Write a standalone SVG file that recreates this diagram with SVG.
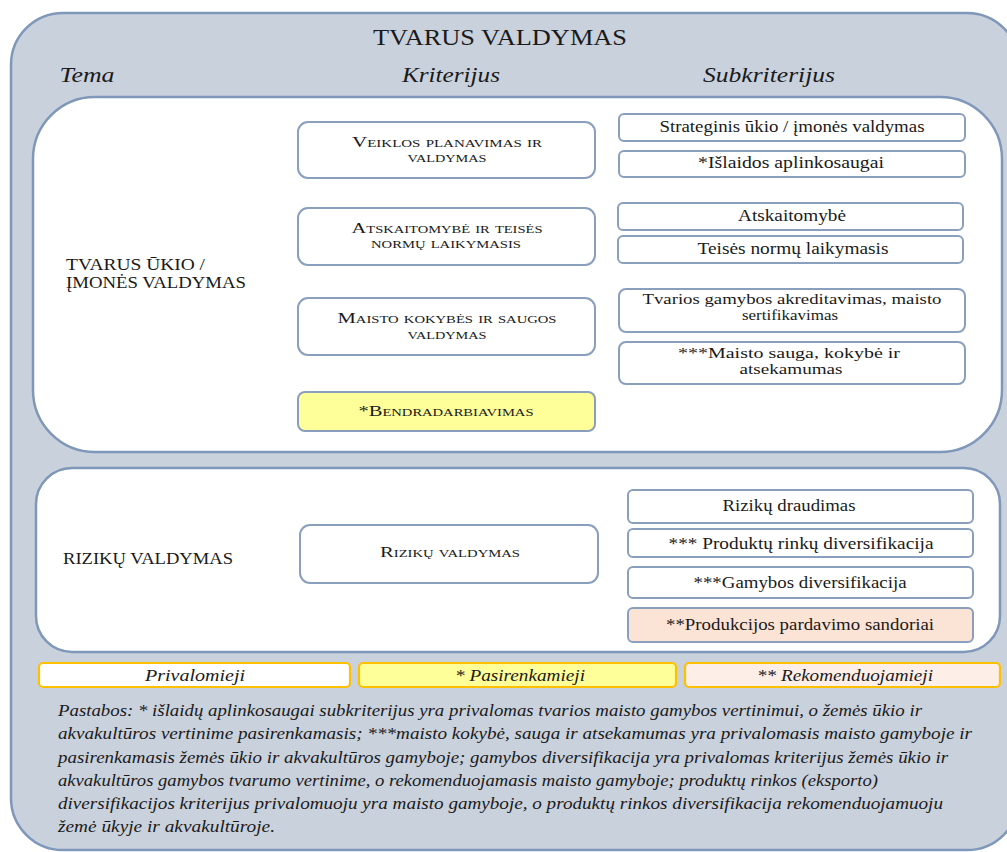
<svg xmlns="http://www.w3.org/2000/svg" width="1007" height="852" viewBox="0 0 1007 852" font-family="'Liberation Serif', 'DejaVu Serif', 'Noto Serif', 'FreeSerif', Tinos, serif">
  <style>
    text { fill: #1a1a1a; }
    .outer { fill: #c9d1dd; stroke: #7f97b8; stroke-width: 2.5; }
    .panel { fill: #ffffff; stroke: #7f97b8; stroke-width: 2.5; }
    .box { fill: #ffffff; stroke: #8a9fbd; stroke-width: 2; }
    .yellow { fill: #ffff99; }
    .peach { fill: #fbe4d5; }
    .legend { stroke: #ffc000; stroke-width: 2.2; }
    .title { font-size: 23px; text-anchor: middle; }
    .head { font-size: 22px; font-style: italic; text-anchor: middle; }
    .crit { font-size: 15.5px; font-variant: small-caps; text-anchor: middle; }
    .sub { font-size: 16px; text-anchor: middle; }
    .sub2 { font-size: 15px; text-anchor: middle; }
    .theme { font-size: 16.5px; }
    .leg { font-size: 16px; font-style: italic; text-anchor: middle; }
    .note { font-size: 16px; font-style: italic; }
  </style>

  <!-- outer frame -->
  <rect class="outer" x="11" y="13" width="1008" height="837" rx="52" ry="52"/>
  <text class="title" x="500" y="45" textLength="254" lengthAdjust="spacingAndGlyphs">TVARUS VALDYMAS</text>
  <text class="head" x="87" y="82" textLength="55" lengthAdjust="spacingAndGlyphs">Tema</text>
  <text class="head" x="451" y="82" textLength="98" lengthAdjust="spacingAndGlyphs">Kriterijus</text>
  <text class="head" x="769" y="82" textLength="132" lengthAdjust="spacingAndGlyphs">Subkriterijus</text>

  <!-- theme: sustainable farm / enterprise management -->
  <g id="theme-tvarus">
    <rect class="panel" x="33" y="97" width="969" height="355" rx="62" ry="62"/>
    <text class="theme" x="66" y="270" textLength="139" lengthAdjust="spacingAndGlyphs">TVARUS  ŪKIO /</text>
    <text class="theme" x="66" y="288" textLength="180" lengthAdjust="spacingAndGlyphs">ĮMONĖS VALDYMAS</text>
  </g>

  <!-- theme: risk management -->
  <g id="theme-rizikos">
    <rect class="panel" x="36" y="468" width="964" height="184" rx="36" ry="36"/>
    <text class="theme" x="63" y="564" textLength="170" lengthAdjust="spacingAndGlyphs">RIZIKŲ VALDYMAS</text>
  </g>

  <!-- criteria -->
  <g id="crit-veiklos">
    <rect class="box" x="298" y="122" width="297" height="56" rx="10"/>
    <text class="crit" x="447" y="147" textLength="190" lengthAdjust="spacingAndGlyphs">Veiklos  planavimas  ir</text>
    <text class="crit" x="447" y="162" textLength="79" lengthAdjust="spacingAndGlyphs">valdymas</text>
  </g>
  <g id="crit-atskaitomybe">
    <rect class="box" x="298" y="208" width="297" height="57" rx="10"/>
    <text class="crit" x="447" y="233" textLength="191" lengthAdjust="spacingAndGlyphs">Atskaitomybė  ir  teisės</text>
    <text class="crit" x="446" y="248" textLength="150" lengthAdjust="spacingAndGlyphs">normų  laikymasis</text>
  </g>
  <g id="crit-maisto">
    <rect class="box" x="298" y="298" width="297" height="57" rx="10"/>
    <text class="crit" x="447" y="323" textLength="219" lengthAdjust="spacingAndGlyphs">Maisto kokybės  ir saugos</text>
    <text class="crit" x="447" y="339" textLength="79" lengthAdjust="spacingAndGlyphs">valdymas</text>
  </g>
  <g id="crit-bendradarbiavimas">
    <rect class="box yellow" x="298" y="392" width="297" height="39" rx="7"/>
    <text class="crit" x="446" y="416" textLength="175" lengthAdjust="spacingAndGlyphs">*Bendradarbiavimas</text>
  </g>
  <g id="crit-rizikos">
    <rect class="box" x="300" y="525" width="298" height="58" rx="10"/>
    <text class="crit" x="450" y="557" textLength="140" lengthAdjust="spacingAndGlyphs">Rizikų  valdymas</text>
  </g>

  <!-- subcriteria -->
  <g id="sub-strateginis">
    <rect class="box" x="619" y="114" width="346" height="27" rx="5"/>
    <text class="sub" x="792" y="132" textLength="265" lengthAdjust="spacingAndGlyphs">Strateginis ūkio / įmonės valdymas</text>
  </g>
  <g id="sub-islaidos">
    <rect class="box" x="619" y="151" width="346" height="26" rx="5"/>
    <text class="sub" x="791" y="168" textLength="186" lengthAdjust="spacingAndGlyphs">*Išlaidos aplinkosaugai</text>
  </g>
  <g id="sub-atskaitomybe">
    <rect class="box" x="618" y="203" width="345" height="27" rx="5"/>
    <text class="sub" x="792" y="221" textLength="108" lengthAdjust="spacingAndGlyphs">Atskaitomybė</text>
  </g>
  <g id="sub-teises">
    <rect class="box" x="618" y="236" width="345" height="27" rx="5"/>
    <text class="sub" x="793" y="254" textLength="191" lengthAdjust="spacingAndGlyphs">Teisės normų laikymasis</text>
  </g>
  <g id="sub-akreditavimas">
    <rect class="box" x="619" y="289" width="346" height="43" rx="7"/>
    <text class="sub2" x="792" y="304" textLength="299" lengthAdjust="spacingAndGlyphs">Tvarios  gamybos akreditavimas, maisto</text>
    <text class="sub2" x="790" y="320" textLength="96" lengthAdjust="spacingAndGlyphs">sertifikavimas</text>
  </g>
  <g id="sub-sauga">
    <rect class="box" x="619" y="342" width="346" height="42" rx="7"/>
    <text class="sub2" x="789" y="358" textLength="222" lengthAdjust="spacingAndGlyphs">***Maisto sauga, kokybė ir</text>
    <text class="sub2" x="791" y="374" textLength="103" lengthAdjust="spacingAndGlyphs">atsekamumas</text>
  </g>
  <g id="sub-draudimas">
    <rect class="box" x="628" y="490" width="345" height="33" rx="5"/>
    <text class="sub" x="789" y="511" textLength="133" lengthAdjust="spacingAndGlyphs">Rizikų draudimas</text>
  </g>
  <g id="sub-rinku">
    <rect class="box" x="628" y="529" width="345" height="28" rx="5"/>
    <text class="sub" x="801" y="549" textLength="265" lengthAdjust="spacingAndGlyphs">*** Produktų rinkų diversifikacija</text>
  </g>
  <g id="sub-gamybos">
    <rect class="box" x="628" y="567" width="345" height="31" rx="5"/>
    <text class="sub" x="800" y="588" textLength="213" lengthAdjust="spacingAndGlyphs">***Gamybos diversifikacija</text>
  </g>
  <g id="sub-sandoriai">
    <rect class="box peach" x="628" y="608" width="345" height="34" rx="5"/>
    <text class="sub" x="800" y="630" textLength="268" lengthAdjust="spacingAndGlyphs">**Produkcijos pardavimo sandoriai</text>
  </g>

  <!-- legend -->
  <g id="legend-privalomieji">
    <rect class="legend" x="39" y="663" width="311" height="24" rx="4" fill="#ffffff"/>
    <text class="leg" x="195" y="681" textLength="100" lengthAdjust="spacingAndGlyphs">Privalomieji</text>
  </g>
  <g id="legend-pasirenkamieji">
    <rect class="legend" x="359" y="663" width="317" height="24" rx="4" fill="#ffff99"/>
    <text class="leg" x="520" y="681" textLength="130" lengthAdjust="spacingAndGlyphs">* Pasirenkamieji</text>
  </g>
  <g id="legend-rekomenduojamieji">
    <rect class="legend" x="685" y="663" width="315" height="24" rx="4" fill="#fdefe7"/>
    <text class="leg" x="845" y="681" textLength="176" lengthAdjust="spacingAndGlyphs">** Rekomenduojamieji</text>
  </g>

  <!-- notes -->
  <g id="notes">
    <text class="note" x="58" y="716" textLength="864" lengthAdjust="spacingAndGlyphs">Pastabos: * išlaidų aplinkosaugai subkriterijus yra privalomas tvarios maisto gamybos vertinimui, o žemės ūkio ir</text>
    <text class="note" x="58" y="739" textLength="914" lengthAdjust="spacingAndGlyphs">akvakultūros vertinime pasirenkamasis; ***maisto kokybė, sauga ir atsekamumas yra privalomasis maisto gamyboje ir</text>
    <text class="note" x="58" y="763" textLength="890" lengthAdjust="spacingAndGlyphs">pasirenkamasis žemės ūkio ir akvakultūros gamyboje;  gamybos diversifikacija yra privalomas kriterijus žemės ūkio ir</text>
    <text class="note" x="58" y="786" textLength="820" lengthAdjust="spacingAndGlyphs">akvakultūros gamybos tvarumo vertinime, o rekomenduojamasis maisto gamyboje; produktų rinkos (eksporto)</text>
    <text class="note" x="58" y="809" textLength="885" lengthAdjust="spacingAndGlyphs">diversifikacijos kriterijus privalomuoju yra maisto gamyboje, o produktų rinkos diversifikacija rekomenduojamuoju</text>
    <text class="note" x="58" y="832" textLength="217" lengthAdjust="spacingAndGlyphs">žemė ūkyje ir akvakultūroje.</text>
  </g>
</svg>
